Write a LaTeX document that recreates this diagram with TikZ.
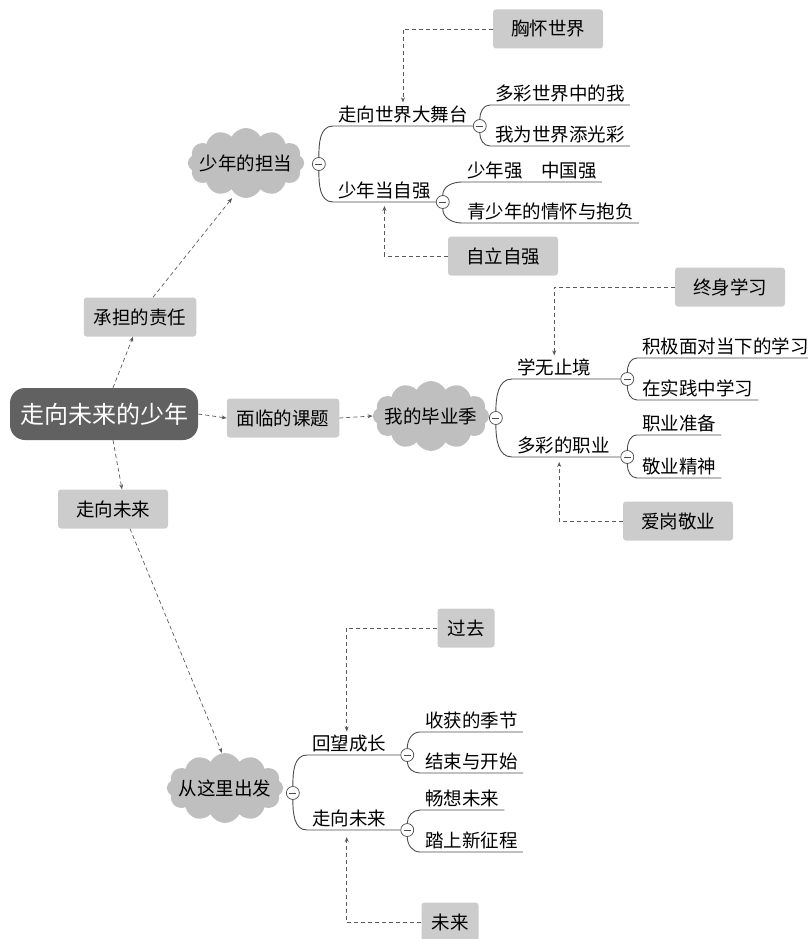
\documentclass[tikz,border=0pt]{standalone}
\usepackage{fontspec}
\setmainfont{Noto Sans CJK SC}
\usetikzlibrary{arrows.meta,shapes.symbols}
\tikzset{
  txt/.style={font=\fontsize{18.5pt}{20pt}\selectfont},
  root/.style={font=\fontsize{24pt}{26pt}\selectfont,fill=black!62,text=white,rounded corners=15pt,minimum width=188pt,minimum height=52pt},
  tag/.style={txt,fill=black!20,rounded corners=3pt,minimum width=110pt,minimum height=39pt,inner xsep=10pt},
  puff/.style={txt,cloud,cloud puffs=12,cloud puff arc=125,cloud ignores aspect,fill=black!25,minimum width=100pt,minimum height=70pt,inner xsep=-5pt,inner ysep=0pt},
  twig/.style={txt,anchor=south west,inner xsep=5pt,inner ysep=3pt},
  fold/.style={circle,draw=black!70,fill=white,line width=0.7pt,minimum size=13pt,inner sep=0pt,anchor=west,
    path picture={\draw[line width=0.8pt] ([xshift=-3.5pt]path picture bounding box.center) -- ([xshift=3.5pt]path picture bounding box.center);}},
  limb/.style={draw=black!70,line width=0.9pt},
  link/.style={draw=black!65,dash pattern=on 4pt off 3pt,line width=0.7pt,-{Stealth[length=5pt,width=4pt]}}
}
\begin{document}
\begin{tikzpicture}[x=1pt,y=1pt]
  \useasboundingbox (0,0) rectangle (807,-939);
  \node[root] (root) at (104,-414) {走向未来的少年};
  \node[tag] (duty) at (140,-317) {承担的责任};
  \node[tag] (task) at (283,-418) {面临的课题};
  \node[tag] (ahead) at (113,-509) {走向未来};
  \node[puff] (hold) at (246,-163) {少年的担当};
  \node[puff] (grad) at (431,-416) {我的毕业季};
  \node[puff] (start) at (225,-788) {从这里出发};
  \draw[link] ([xshift=9pt]root.north) -- ([xshift=-7pt]duty.south);
  \draw[link] ([xshift=13pt]duty.north) -- ([xshift=-14pt]hold.south);
  \draw[link] (root.east) -- (task.west);
  \draw[link] (task.east) -- (grad.west);
  \draw[link] ([xshift=9pt]root.south) -- ([xshift=9pt]ahead.north);
  \draw[link] ([xshift=17pt]ahead.south) -- ([xshift=-3pt]start.north);

  % 少年的担当
  \node[fold] (f1) at (312,-164) {};
  \node[twig] (b11) at (333,-126) {走向世界大舞台};
  \node[twig] (b12) at (333,-202) {少年当自强};
  \draw[limb] (f1.north) to[out=90,in=180] (b11.south west) -- (b11.south east);
  \draw[limb] (f1.south) to[out=-90,in=180] (b12.south west) -- (b12.south east);
  \node[fold] (f11) at (b11.south east) {};
  \node[fold] (f12) at (b12.south east) {};
  \node[twig] (l111) at (490,-105) {多彩世界中的我};
  \node[twig] (l112) at (490,-146) {我为世界添光彩};
  \node[twig] (l121) at (462,-182) {少年强　中国强};
  \node[twig] (l122) at (462,-223) {青少年的情怀与抱负};
  \draw[limb] (f11.north) to[out=90,in=180] (l111.south west) -- (l111.south east);
  \draw[limb] (f11.south) to[out=-90,in=180] (l112.south west) -- (l112.south east);
  \draw[limb] (f12.north) to[out=90,in=180] (l121.south west) -- (l121.south east);
  \draw[limb] (f12.south) to[out=-90,in=180] (l122.south west) -- (l122.south east);
  \node[tag] (world) at (548,-29) {胸怀世界};
  \node[tag] (self) at (503,-256) {自立自强};
  \draw[link] (world.west) -| (b11.north);
  \draw[link] (self.west) -| ([yshift=-4pt]b12.south);

  % 我的毕业季
  \node[fold] (f2) at (489,-418) {};
  \node[twig,text width=98pt] (b21) at (512,-379) {学无止境};
  \node[twig,text width=98pt] (b22) at (512,-457) {多彩的职业};
  \draw[limb] (f2.north) to[out=90,in=180] (b21.south west) -- (b21.south east);
  \draw[limb] (f2.south) to[out=-90,in=180] (b22.south west) -- (b22.south east);
  \node[fold] (f21) at (b21.south east) {};
  \node[fold] (f22) at (b22.south east) {};
  \node[twig] (l211) at (637,-358) {积极面对当下的学习};
  \node[twig] (l212) at (637,-400) {在实践中学习};
  \node[twig] (l221) at (637,-435) {职业准备};
  \node[twig] (l222) at (637,-478) {敬业精神};
  \draw[limb] (f21.north) to[out=90,in=180] (l211.south west) -- (l211.south east);
  \draw[limb] (f21.south) to[out=-90,in=180] (l212.south west) -- (l212.south east);
  \draw[limb] (f22.north) to[out=90,in=180] (l221.south west) -- (l221.south east);
  \draw[limb] (f22.south) to[out=-90,in=180] (l222.south west) -- (l222.south east);
  \node[tag] (study) at (730,-287) {终身学习};
  \node[tag] (love) at (678,-521) {爱岗敬业};
  \draw[link] (study.west) -| ([xshift=-12pt]b21.north);
  \draw[link] (love.west) -| ([xshift=-7pt,yshift=-5pt]b22.south);

  % 从这里出发
  \node[fold] (f3) at (286,-793) {};
  \node[twig,text width=83pt] (b31) at (307,-755) {回望成长};
  \node[twig,text width=83pt] (b32) at (307,-830) {走向未来};
  \draw[limb] (f3.north) to[out=90,in=180] (b31.south west) -- (b31.south east);
  \draw[limb] (f3.south) to[out=-90,in=180] (b32.south west) -- (b32.south east);
  \node[fold] (f31) at (b31.south east) {};
  \node[fold] (f32) at (b32.south east) {};
  \node[twig] (l311) at (420,-732) {收获的季节};
  \node[twig] (l312) at (420,-773) {结束与开始};
  \node[twig] (l321) at (420,-810) {畅想未来};
  \node[twig] (l322) at (420,-852) {踏上新征程};
  \draw[limb] (f31.north) to[out=90,in=180] (l311.south west) -- (l311.south east);
  \draw[limb] (f31.south) to[out=-90,in=180] (l312.south west) -- (l312.south east);
  \draw[limb] (f32.north) to[out=90,in=180] (l321.south west) -- (l321.south east);
  \draw[limb] (f32.south) to[out=-90,in=180] (l322.south west) -- (l322.south east);
  \node[tag,minimum width=57pt] (past) at (466,-628) {过去};
  \node[tag,minimum width=57pt] (next) at (450,-922) {未来};
  \draw[link] (past.west) -| ([xshift=-7pt]b31.north);
  \draw[link] (next.west) -| ([xshift=-7pt,yshift=-7pt]b32.south);
\end{tikzpicture}
\end{document}
